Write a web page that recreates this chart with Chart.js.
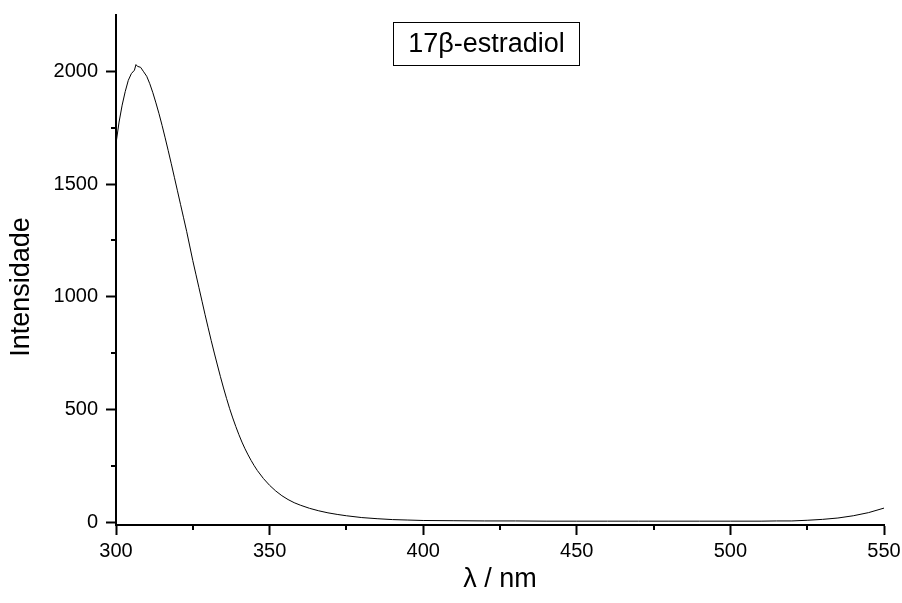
<!DOCTYPE html>
<html>
<head>
<meta charset="utf-8">
<script src="https://cdn.jsdelivr.net/npm/chart.js@4"></script>
<style>
  html, body { margin: 0; padding: 0; background: #fff; }
  #wrap { width: 902px; height: 603px; }
</style>
</head>
<body>
<div id="wrap"><canvas id="spectrum" width="902" height="603"></canvas></div>
<script>
// Data
const seriesLabel = '17\u03b2-estradiol';
const yTitle = 'Intensidade';
const wavelength = [
    300, 301, 302, 303, 304, 305, 306, 306.5, 307, 308, 309, 310, 311, 312, 313, 314, 315, 316, 317, 318, 319,
    320, 321, 322, 323, 324, 325, 326, 327, 328, 329, 330, 331, 332, 333, 334, 335, 336, 337, 338, 339,
    340, 341, 342, 343, 344, 345, 346, 348, 350, 352, 354, 356, 358, 360, 363, 366, 369, 372, 375,
    380, 385, 390, 395, 400, 410, 420, 430, 440, 450, 460, 470, 480, 490, 500, 510, 515, 520, 525,
    530, 535, 540, 545, 550
];
const intensity = [
    1680, 1775, 1850, 1910, 1960, 1990, 2005, 2030, 2022, 2018, 1998, 1978, 1945, 1905, 1860, 1812, 1760, 1705, 1648, 1590, 1530,
    1470, 1410, 1350, 1290, 1225, 1160, 1100, 1040, 980, 920, 862, 805, 750, 697, 645, 595, 548, 503, 462, 424,
    388, 355, 325, 298, 273, 250, 229, 193, 163, 138, 117, 100, 86, 75, 61, 50, 41, 34, 28,
    20, 15, 11, 9, 7, 6, 5, 5, 4, 4, 4, 4, 4, 4, 4, 4, 5, 5, 8,
    12, 18, 28, 42, 62
];
const xTicks = [300, 350, 400, 450, 500, 550];
const xMinorTicks = [325, 375, 425, 475, 525];
const yTicks = [0, 500, 1000, 1500, 2000];
const yMinorTicks = [250, 750, 1250, 1750];

const fontFamily = '"Liberation Sans", Arial, sans-serif';

// minor ticks, y title and framed legend, drawn after the chart
const extras = {
    id: 'extras',
    afterDraw(chart) {
        const ctx = chart.ctx;
        const xs = chart.scales.x, ys = chart.scales.y;
        const area = chart.chartArea;
        ctx.save();
        ctx.strokeStyle = '#000';
        ctx.lineWidth = 2;
        ctx.beginPath();
        xMinorTicks.forEach(v => {
            const px = Math.round(xs.getPixelForValue(v));
            ctx.moveTo(px, area.bottom);
            ctx.lineTo(px, area.bottom + 5);
        });
        yMinorTicks.forEach(v => {
            const py = Math.round(ys.getPixelForValue(v));
            ctx.moveTo(area.left, py);
            ctx.lineTo(area.left - 5, py);
        });
        ctx.stroke();

        ctx.fillStyle = '#000';
        ctx.font = '27px ' + fontFamily;
        ctx.textAlign = 'center';
        ctx.textBaseline = 'middle';

        // y axis title
        ctx.save();
        ctx.translate(22, 287);
        ctx.rotate(-Math.PI / 2);
        ctx.fillText(yTitle, 0, 0);
        ctx.restore();

        // legend box
        ctx.lineWidth = 1;
        ctx.fillStyle = '#fff';
        ctx.fillRect(393.5, 22.5, 186, 43);
        ctx.strokeRect(393.5, 22.5, 186, 43);
        ctx.fillStyle = '#000';
        ctx.fillText(chart.data.datasets[0].label, 486.5, 45);
        ctx.restore();
    }
};

const ctx = document.getElementById('spectrum').getContext('2d');
new Chart(ctx, {
    type: 'line',
    data: {
        datasets: [{
            label: seriesLabel,
            data: wavelength.map((w, i) => ({ x: w, y: intensity[i] })),
            borderColor: '#000',
            borderWidth: 1,
            pointRadius: 0,
            tension: 0,
            fill: false
        }]
    },
    options: {
        responsive: false,
        animation: false,
        layout: { padding: { top: 15, right: 18, left: 0, bottom: 0 } },
        plugins: {
            legend: { display: false },
            tooltip: { enabled: false }
        },
        scales: {
            x: {
                type: 'linear',
                min: 300,
                max: 550,
                afterFit: (s) => { s.height = 78; s.paddingLeft = 0; s.paddingRight = 0; },
                afterBuildTicks: (s) => { s.ticks = xTicks.map(v => ({ value: v })); },
                border: { display: true, color: '#000', width: 2 },
                grid: { display: true, drawOnChartArea: false, tickLength: 10, tickWidth: 2, tickColor: '#000' },
                ticks: { color: '#000', padding: 4, maxRotation: 0, callback: (v) => String(v), font: { family: fontFamily, size: 20 } },
                title: { display: true, text: '\u03bb / nm', color: '#000', padding: { top: 0, bottom: 7 }, font: { family: fontFamily, size: 27 } }
            },
            y: {
                min: -13,
                max: 2250,
                afterFit: (s) => { s.width = 116; s.paddingTop = 0; s.paddingBottom = 0; },
                afterBuildTicks: (s) => { s.ticks = yTicks.map(v => ({ value: v })); },
                border: { display: true, color: '#000', width: 2 },
                grid: { display: true, drawOnChartArea: false, tickLength: 10, tickWidth: 2, tickColor: '#000' },
                ticks: { color: '#000', padding: 8, callback: (v) => String(v), font: { family: fontFamily, size: 20 } }
            }
        }
    },
    plugins: [extras]
});
</script>
</body>
</html>
